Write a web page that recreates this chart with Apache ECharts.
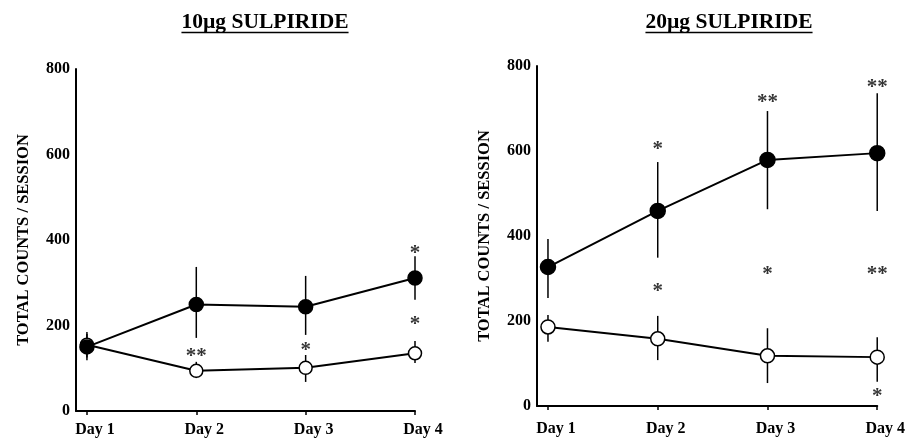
<!DOCTYPE html>
<html><head><meta charset="utf-8">
<script src="https://cdn.jsdelivr.net/npm/echarts@6/dist/echarts.min.js"></script>
<style>html,body{margin:0;padding:0;background:#fff}#c{width:908px;height:439px}</style>
</head><body><div id="c"></div>
<script>
// ---- data ----
const days = [1, 2, 3, 4];
const dayLabels = ['Day 1', 'Day 2', 'Day 3', 'Day 4'];
const yTicks = [0, 200, 400, 600, 800];
const titles = ['10\u00b5g SULPIRIDE', '20\u00b5g SULPIRIDE'];
const yName = 'TOTAL COUNTS / SESSION';

// 10ug panel
const p1Filled = [150, 249, 244, 311];
const p1FilledLow = [119, 171, 178, 260];
const p1FilledHigh = [185, 337, 316, 362];
const p1Open = [155, 94, 101, 135];
const p1OpenLow = [125, 77, 68, 112];
const p1OpenHigh = [180, 115, 131, 164];
const p1StarDays = [2, 3, 4, 4];
const p1StarVals = [140, 154, 381, 213];
const p1StarText = ['**', '*', '*', '*'];

// 20ug panel
const p2Filled = [327, 459, 579, 595];
const p2FilledLow = [254, 349, 463, 459];
const p2FilledHigh = [393, 574, 694, 736];
const p2Open = [186, 158, 118, 115];
const p2OpenLow = [151, 108, 54, 57];
const p2OpenHigh = [214, 212, 183, 162];
const p2StarDays = [2, 2, 3, 3, 4, 4, 4];
const p2StarVals = [614, 282, 725, 322, 762, 322, 33];
const p2StarText = ['*', '*', '**', '*', '**', '**', '*'];

// ---- chart ----
const FONT = '"Liberation Serif", "Times New Roman", serif';
const chart = echarts.init(document.getElementById('c'), null, {renderer: 'canvas'});

const grids = [
  {left: 76, top: 69, width: 339, height: 342},
  {left: 537, top: 66, width: 341, height: 340}
];

function pts(vals) { return days.map((d, i) => [d, vals[i]]); }
function errData(low, high) { return days.map((d, i) => [d, low[i], high[i]]); }

const xAxes = [], yAxes = [], series = [];
grids.forEach((g, gi) => {
  xAxes.push({
    gridIndex: gi, type: 'value', min: 0.9, max: 4,
    axisLine: {show: true, onZero: false, lineStyle: {color: '#000', width: 2}},
    axisTick: {show: true, customValues: days, length: 4, lineStyle: {color: '#000', width: 1.5}},
    axisLabel: {show: true, customValues: days, margin: gi === 0 ? 11 : 15,
      formatter: v => dayLabels[days.indexOf(v)] || '',
      padding: [0, 0, 0, 16],
      color: '#000', fontFamily: FONT, fontWeight: 'bold', fontSize: 16},
    splitLine: {show: false}
  });
  xAxes.push({
    gridIndex: gi, type: 'value', min: 0.9, max: 4,
    axisLine: {show: false},
    axisTick: {show: true, inside: true, customValues: days, length: 4, lineStyle: {color: '#000', width: 1.5}},
    axisLabel: {show: false}, splitLine: {show: false}
  });
  yAxes.push({
    gridIndex: gi, type: 'value', min: 0, max: 800, interval: 200,
    name: yName, nameLocation: 'middle', nameGap: 44, nameRotate: 90,
    nameTextStyle: {color: '#000', fontFamily: FONT, fontWeight: 'bold', fontSize: 16.5},
    axisLine: {show: true, lineStyle: {color: '#000', width: 2}},
    axisTick: {show: false},
    axisLabel: {color: '#000', fontFamily: FONT, fontWeight: 'bold', fontSize: 16, margin: 6},
    splitLine: {show: false}
  });
});

function errSeries(xi, yi, low, high) {
  return {
    type: 'custom', xAxisIndex: xi, yAxisIndex: yi, z: 2, silent: true,
    data: errData(low, high),
    renderItem: (params, api) => {
      const a = api.coord([api.value(0), api.value(1)]);
      const b = api.coord([api.value(0), api.value(2)]);
      return {type: 'line', shape: {x1: a[0], y1: a[1], x2: b[0], y2: b[1]},
        style: {stroke: '#000', lineWidth: 1.5}};
    }
  };
}
function lineSeries(xi, yi, vals, filled, size) {
  return {
    type: 'line', xAxisIndex: xi, yAxisIndex: yi, z: 3, silent: true,
    data: pts(vals), symbol: 'circle', symbolSize: size, showSymbol: true,
    lineStyle: {color: '#000', width: 2},
    itemStyle: {color: filled ? '#000' : '#fff', borderColor: '#000', borderWidth: 1.5, opacity: 1},
    animation: false
  };
}
function starSeries(xi, yi, sd, sv, st) {
  return {
    type: 'scatter', xAxisIndex: xi, yAxisIndex: yi, z: 4, silent: true,
    symbolSize: 0,
    data: sd.map((d, i) => ({value: [d, sv[i]], label: {formatter: st[i]}})),
    label: {show: true, position: 'inside', offset: [0, 5], color: '#000', fontFamily: FONT,
      fontWeight: 'bold', fontSize: 21, verticalAlign: 'middle', align: 'center'}
  };
}

series.push(errSeries(0, 0, p1FilledLow, p1FilledHigh));
series.push(errSeries(0, 0, p1OpenLow, p1OpenHigh));
series.push(lineSeries(0, 0, p1Open, false, 13));
series.push(lineSeries(0, 0, p1Filled, true, 14));
series.push(starSeries(0, 0, p1StarDays, p1StarVals, p1StarText));

series.push(errSeries(2, 1, p2FilledLow, p2FilledHigh));
series.push(errSeries(2, 1, p2OpenLow, p2OpenHigh));
series.push(lineSeries(2, 1, p2Open, false, 14));
series.push(lineSeries(2, 1, p2Filled, true, 15));
series.push(starSeries(2, 1, p2StarDays, p2StarVals, p2StarText));

// titles with underline
const titleFont = 'bold 21.5px ' + FONT;
const cv = document.createElement('canvas').getContext('2d');
cv.font = titleFont;
const titleCenters = [265, 729];
const graphics = [];
titles.forEach((t, i) => {
  const w = cv.measureText(t).width;
  graphics.push({type: 'text', x: titleCenters[i], y: 11, silent: true,
    style: {text: t, font: titleFont, fill: '#000', textAlign: 'center', textVerticalAlign: 'top'}});
  graphics.push({type: 'line', silent: true,
    shape: {x1: titleCenters[i] - w / 2, y1: 32.5, x2: titleCenters[i] + w / 2, y2: 32.5},
    style: {stroke: '#000', lineWidth: 1.5}});
});

chart.setOption({
  animation: false,
  grid: grids,
  xAxis: xAxes,
  yAxis: yAxes,
  series: series,
  graphic: graphics
});
</script></body></html>
